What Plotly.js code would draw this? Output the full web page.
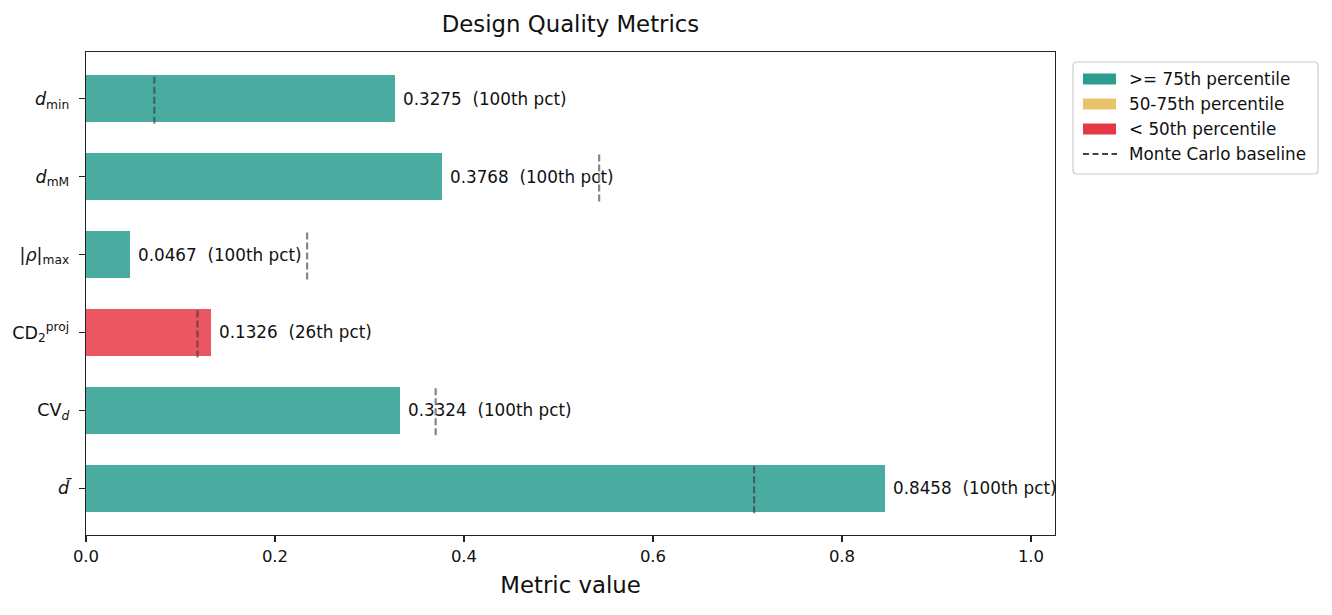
<!DOCTYPE html>
<html>
<head>
<meta charset="utf-8">
<script src="https://cdn.plot.ly/plotly-3.0.1.min.js"></script>
<style>html,body{margin:0;padding:0;background:#fff;}#chart{width:1332px;height:615px;}</style>
</head>
<body>
<div id="chart"></div>
<script>
// ---- data (top to bottom as shown) ----
const metricLabels = [
  "<i>d</i><sub>min</sub>",
  "<i>d</i><sub>mM</sub>",
  "|<i>ρ</i>|<sub>max</sub>",
  "CD<sub>2</sub><sup>proj</sup>",
  "CV<sub><i>d</i></sub>",
  "<i>d̄</i>"
];
const metricValues = [0.3275, 0.3768, 0.0467, 0.1326, 0.3324, 0.8458];
const percentiles = [100, 100, 100, 26, 100, 100];
const baselines = [0.0723, 0.543, 0.234, 0.118, 0.370, 0.707];
const legendLabels = [">= 75th percentile", "50-75th percentile", "< 50th percentile", "Monte Carlo baseline"];
const tierColors = ["#2a9d8f", "#e9c46a", "#e63946"];
const xTicks = [0.0, 0.2, 0.4, 0.6, 0.8, 1.0];

// ---- geometry (pixels) ----
const L = 86, R = 1055, T = 52, B = 535;
const W = R - L, H = B - T;
const px = x => (x - L) / W;
const py = y => (B - y) / H;

const n = metricLabels.length;
const ypos = metricLabels.map((_, i) => n - 1 - i);
const colorFor = p => p >= 75 ? tierColors[0] : (p >= 50 ? tierColors[1] : tierColors[2]);

const barTrace = {
  type: "bar", orientation: "h",
  x: metricValues, y: ypos, width: 0.6,
  marker: {color: percentiles.map(colorFor), opacity: 0.85, line: {width: 0}},
  hoverinfo: "x", showlegend: false
};

const bx = [], by = [];
baselines.forEach((b, i) => {
  bx.push(b, b, null);
  by.push(ypos[i] - 0.32, ypos[i] + 0.32, null);
});
const baseTrace = {
  type: "scatter", mode: "lines", x: bx, y: by,
  line: {color: "rgba(51,51,51,0.6)", width: 2.2, dash: "7px,3px"},
  hoverinfo: "skip", showlegend: false, cliponaxis: false
};

const font = "DejaVu Sans, Verdana, sans-serif";
const annotations = metricValues.map((v, i) => ({
  x: v, y: ypos[i], xref: "x", yref: "y",
  text: v.toFixed(4) + "\u00a0\u00a0(" + percentiles[i] + "th pct)",
  showarrow: false, xanchor: "left", yanchor: "middle", xshift: 6,
  font: {family: font, size: 16.8, color: "#111"}
}));

// ---- custom legend ----
const shapes = [];
const lbx0 = 1073, lbx1 = 1318, lby0 = 62, lby1 = 174, r = 4;
const rx = r / W, ry = r / H;
const X0 = px(lbx0), X1 = px(lbx1), Y0 = py(lby0), Y1 = py(lby1);
shapes.push({
  type: "path", xref: "paper", yref: "paper",
  path: `M ${X0+rx},${Y0} L ${X1-rx},${Y0} Q ${X1},${Y0} ${X1},${Y0-ry} L ${X1},${Y1+ry} Q ${X1},${Y1} ${X1-rx},${Y1} L ${X0+rx},${Y1} Q ${X0},${Y1} ${X0},${Y1+ry} L ${X0},${Y0-ry} Q ${X0},${Y0} ${X0+rx},${Y0} Z`,
  line: {color: "#cccccc", width: 1.2}, fillcolor: "rgba(255,255,255,0.8)"
});
const rowY = [79, 104, 129, 154];
tierColors.forEach((c, i) => {
  shapes.push({
    type: "rect", xref: "paper", yref: "paper",
    x0: px(1083), x1: px(1116), y0: py(rowY[i] + 5.5), y1: py(rowY[i] - 5.5),
    fillcolor: c, line: {width: 0}
  });
});
shapes.push({
  type: "line", xref: "paper", yref: "paper",
  x0: px(1083), x1: px(1117), y0: py(rowY[3]), y1: py(rowY[3]),
  line: {color: "#444444", width: 2, dash: "6px,3.5px"}
});
legendLabels.forEach((t, i) => {
  annotations.push({
    x: px(1127), y: py(rowY[i]), xref: "paper", yref: "paper",
    text: t, showarrow: false, xanchor: "left", yanchor: "middle",
    font: {family: font, size: 16.8, color: "#111"}
  });
});

const layout = {
  width: 1332, height: 615,
  margin: {l: L, r: 1332 - R, t: T, b: 615 - B, pad: 0},
  paper_bgcolor: "#fff", plot_bgcolor: "#fff",
  font: {family: font, color: "#111"},
  title: {
    text: "Design Quality Metrics",
    font: {family: font, size: 22.8, color: "#111"},
    x: 0.5, xref: "paper", xanchor: "center",
    y: 1 - 24 / 615, yref: "container", yanchor: "middle"
  },
  xaxis: {
    range: [0, 1.0254], tickvals: xTicks, ticktext: xTicks.map(v => v.toFixed(1)),
    showgrid: false, zeroline: false,
    showline: true, mirror: true, linecolor: "#222", linewidth: 1.3,
    ticks: "outside", ticklen: 6, tickwidth: 1.2, tickcolor: "#222",
    tickfont: {family: font, size: 16.5, color: "#111"},
    title: {text: "Metric value", font: {family: font, size: 22.8, color: "#111"}, standoff: 12},
    automargin: false, fixedrange: true
  },
  yaxis: {
    range: [-0.6, n - 1 + 0.6], tickvals: ypos, ticktext: metricLabels,
    showgrid: false, zeroline: false,
    showline: true, mirror: true, linecolor: "#222", linewidth: 1.3,
    ticks: "outside", ticklen: 6, tickwidth: 1.2, tickcolor: "#222",
    tickfont: {family: font, size: 17.5, color: "#111"},
    ticklabelstandoff: 6,
    automargin: false, fixedrange: true
  },
  shapes: shapes,
  annotations: annotations,
  showlegend: false,
  bargap: 0
};

Plotly.newPlot("chart", [barTrace, baseTrace], layout, {displayModeBar: false, staticPlot: true});
</script>
</body>
</html>
